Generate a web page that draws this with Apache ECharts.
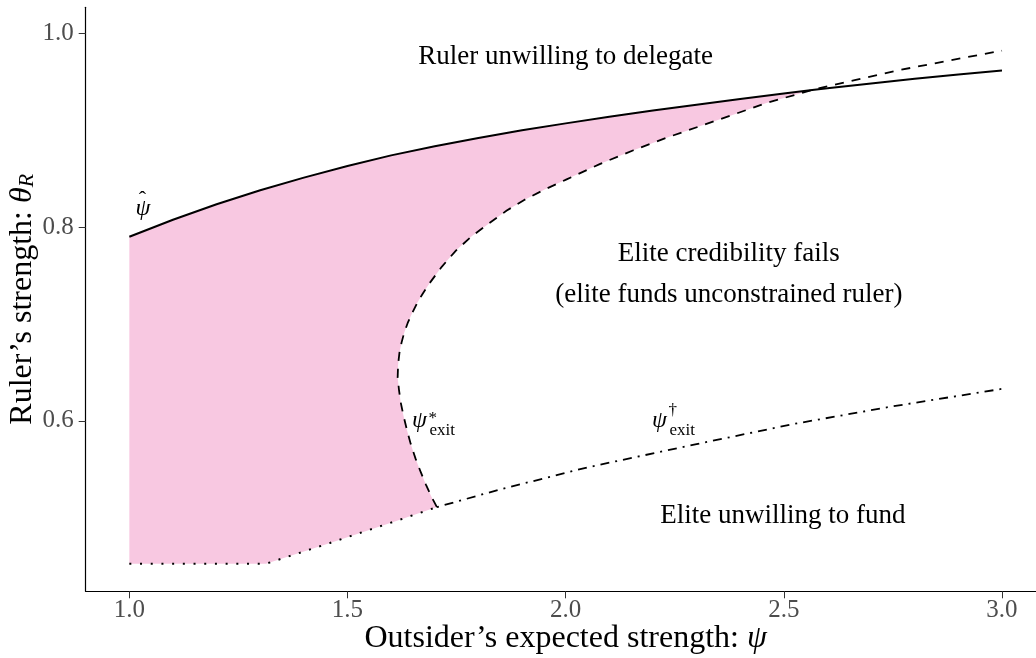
<!DOCTYPE html>
<html>
<head>
<meta charset="utf-8">
<script src="https://cdn.jsdelivr.net/npm/echarts@6/dist/echarts.min.js"></script>
<style>
  html, body { margin: 0; padding: 0; background: #fff; overflow: hidden; }
  #chart { width: 1036px; height: 658px; }
</style>
</head>
<body>
<div id="chart"></div>
<script>
// Upper boundary psi-hat: ruler's threshold for delegating (x = psi, y = theta_R)
const psiHat = [
  [1.0, 0.790], [1.1, 0.8075], [1.2, 0.8235], [1.3, 0.838], [1.4, 0.851],
  [1.5, 0.863], [1.6, 0.874], [1.7, 0.8835], [1.8, 0.892], [1.9, 0.8998],
  [2.0, 0.907], [2.1, 0.9138], [2.2, 0.9202], [2.3, 0.9263], [2.4, 0.9322],
  [2.5, 0.9379], [2.565, 0.9415], [2.6, 0.9432], [2.7, 0.9482], [2.8, 0.953],
  [2.9, 0.9575], [3.0, 0.9617]
];

// psi*_exit: elite credibility boundary, traced from its lower end upward
const psiStar = [
  [1.705, 0.511], [1.692, 0.522], [1.680, 0.534], [1.668, 0.547],
  [1.656, 0.561], [1.645, 0.576], [1.636, 0.591], [1.628, 0.606],
  [1.622, 0.619], [1.618, 0.632], [1.615, 0.645], [1.616, 0.658],
  [1.619, 0.670], [1.624, 0.681], [1.630, 0.691], [1.638, 0.701],
  [1.648, 0.711], [1.659, 0.721], [1.672, 0.731], [1.688, 0.742],
  [1.716, 0.759], [1.749, 0.776], [1.786, 0.791], [1.825, 0.804],
  [1.865, 0.817], [1.905, 0.828], [1.953, 0.839], [2.001, 0.849],
  [2.078, 0.865], [2.154, 0.879], [2.230, 0.892], [2.307, 0.904],
  [2.384, 0.916], [2.460, 0.928], [2.565, 0.9415], [2.665, 0.952],
  [2.765, 0.962], [2.880, 0.972], [3.000, 0.982]
];

// psi-dagger_exit: elite funding boundary
const psiDagger = [
  [1.705, 0.511], [1.848, 0.529], [2.050, 0.552], [2.300, 0.576],
  [2.525, 0.597], [2.750, 0.615], [3.000, 0.633]
];

// Lower edge of the shaded region
const lowerBound = [
  [1.0, 0.4525], [1.313, 0.4525], [1.460, 0.474], [1.610, 0.4965], [1.705, 0.511]
];

// Point where psi*_exit meets psi-hat
const crossing = [2.565, 0.9415];

const xTicks = [1.0, 1.5, 2.0, 2.5, 3.0];
const yTicks = [0.6, 0.8, 1.0];

// Region captions
const regionText = [
  'Ruler unwilling to delegate',
  'Elite credibility fails',
  '(elite funds unconstrained ruler)',
  'Elite unwilling to fund'
];
const regionX = [2.0, 2.374, 2.374, 2.498];
const regionY = [0.9759, 0.7722, 0.7302, 0.5017];

// Curve labels: psi with optional hat, superscript and subscript
const curveLabelX = [1.031, 1.665, 2.215];
const curveLabelY = [0.8158, 0.5972, 0.5972];
const curveLabelHat = [true, false, false];
const curveLabelSup = ['', '*', '†'];
const curveLabelSub = ['', 'exit', 'exit'];

// Shaded region: along psi-hat to the crossing, back down psi*_exit, back along the lower edge
const upperPart = psiHat.filter(p => p[0] <= crossing[0]);
const iCross = psiStar.findIndex(p => p[0] === crossing[0] && p[1] === crossing[1]);
const rightPart = psiStar.slice(0, iCross + 1).reverse();
const lowerPart = lowerBound.slice().reverse();
const region = upperPart.concat(rightPart.slice(1), lowerPart.slice(1));

const SERIF = '"Liberation Serif", "Times New Roman", serif';
const chart = echarts.init(document.getElementById('chart'), null, { renderer: 'canvas' });

const supShift = { '*': -5, '†': -13.5 };

chart.setOption({
  animation: false,
  backgroundColor: '#ffffff',
  grid: { left: 85.7, right: -9.6, top: 7.3, bottom: 66.7, containLabel: false, outerBoundsMode: 'none' },
  xAxis: {
    type: 'value',
    min: 0.9, max: 3.1,
    splitLine: { show: false },
    axisLine: { show: true, onZero: false, lineStyle: { color: '#000', width: 1.2 } },
    axisTick: { show: true, length: 7, customValues: xTicks, lineStyle: { color: '#333', width: 1 } },
    axisLabel: {
      customValues: xTicks, margin: 7,
      formatter: v => v.toFixed(1),
      color: '#4d4d4d', fontSize: 25, fontFamily: SERIF
    },
    name: '{t|Outsider’s expected strength: }{i|ψ}',
    nameLocation: 'middle', nameGap: 31, nameMoveOverlap: false,
    nameTextStyle: {
      rich: {
        t: { fontSize: 32, fontFamily: SERIF, color: '#000', lineHeight: 32 },
        i: { fontSize: 32, fontFamily: SERIF, fontStyle: 'italic', color: '#000', lineHeight: 32 }
      }
    }
  },
  yAxis: {
    type: 'value',
    min: 0.4241, max: 1.0268,
    splitLine: { show: false },
    axisLine: { show: true, onZero: false, lineStyle: { color: '#000', width: 1.2 } },
    axisTick: { show: true, length: 7, customValues: yTicks, lineStyle: { color: '#333', width: 1 } },
    axisLabel: {
      customValues: yTicks, margin: 12,
      formatter: v => v.toFixed(1),
      color: '#4d4d4d', fontSize: 25, fontFamily: SERIF
    },
    name: '{t|Ruler’s strength: }{m|θ}{s|R}',
    nameLocation: 'middle', nameGap: 47, nameRotate: 90, nameMoveOverlap: false,
    nameTextStyle: {
      rich: {
        t: { fontSize: 32, fontFamily: SERIF, color: '#000', lineHeight: 32 },
        m: { fontSize: 32, fontFamily: SERIF, fontStyle: 'italic', color: '#000', lineHeight: 32 },
        s: { fontSize: 22, fontFamily: SERIF, fontStyle: 'italic', color: '#000', lineHeight: 15, verticalAlign: 'bottom' }
      }
    }
  },
  series: [
    {
      type: 'custom',
      name: 'region',
      z: 1,
      data: [[region[0][0], region[0][1]]],
      renderItem: (params, api) => ({
        type: 'polygon',
        shape: { points: region.map(p => api.coord(p)) },
        style: { fill: '#f8c8e1', stroke: null }
      })
    },
    {
      type: 'line', name: 'psiHat', z: 3, data: psiHat,
      showSymbol: false, smooth: false,
      lineStyle: { color: '#000', width: 2 }
    },
    {
      type: 'line', name: 'psiStar', z: 3, data: psiStar,
      showSymbol: false, smooth: false,
      lineStyle: { color: '#000', width: 1.8, type: [9, 8] }
    },
    {
      type: 'line', name: 'psiDagger', z: 3, data: psiDagger,
      showSymbol: false, smooth: false,
      lineStyle: { color: '#000', width: 1.8, type: [2, 6, 9, 6] }
    },
    {
      type: 'line', name: 'lowerBound', z: 3, data: lowerBound,
      showSymbol: false, smooth: false,
      lineStyle: { color: '#000', width: 2, type: [2, 8.7] }
    },
    {
      type: 'custom', name: 'regionText', z: 5, clip: false,
      data: regionX.map((x, i) => [x, regionY[i]]),
      renderItem: (params, api) => {
        const c = api.coord([api.value(0), api.value(1)]);
        return {
          type: 'text', x: c[0], y: c[1],
          style: {
            text: regionText[params.dataIndex], fill: '#000',
            font: '27px ' + SERIF, align: 'center', verticalAlign: 'middle'
          }
        };
      }
    },
    {
      type: 'custom', name: 'curveLabels', z: 5, clip: false,
      data: curveLabelX.map((x, i) => [x, curveLabelY[i]]),
      renderItem: (params, api) => {
        const i = params.dataIndex;
        const c = api.coord([api.value(0), api.value(1)]);
        const children = [{
          type: 'text', x: c[0], y: c[1] - 2.6,
          style: { text: 'ψ', fill: '#000', font: 'italic 24px ' + SERIF, align: 'center', verticalAlign: 'middle' }
        }];
        if (curveLabelHat[i]) {
          children.push({
            type: 'text', x: c[0] - 0.5, y: c[1] - 11.4,
            style: { text: 'ˆ', fill: '#000', font: '22px ' + SERIF, align: 'center', verticalAlign: 'middle' }
          });
        }
        if (curveLabelSup[i]) {
          children.push({
            type: 'text', x: c[0] + 9, y: c[1] + supShift[curveLabelSup[i]],
            style: { text: curveLabelSup[i], fill: '#000', font: '17px ' + SERIF, align: 'left', verticalAlign: 'middle' }
          });
        }
        if (curveLabelSub[i]) {
          children.push({
            type: 'text', x: c[0] + 10, y: c[1] + 7.3,
            style: { text: curveLabelSub[i], fill: '#000', font: '17px ' + SERIF, align: 'left', verticalAlign: 'middle' }
          });
        }
        return { type: 'group', children };
      }
    }
  ]
});
</script>
</body>
</html>
